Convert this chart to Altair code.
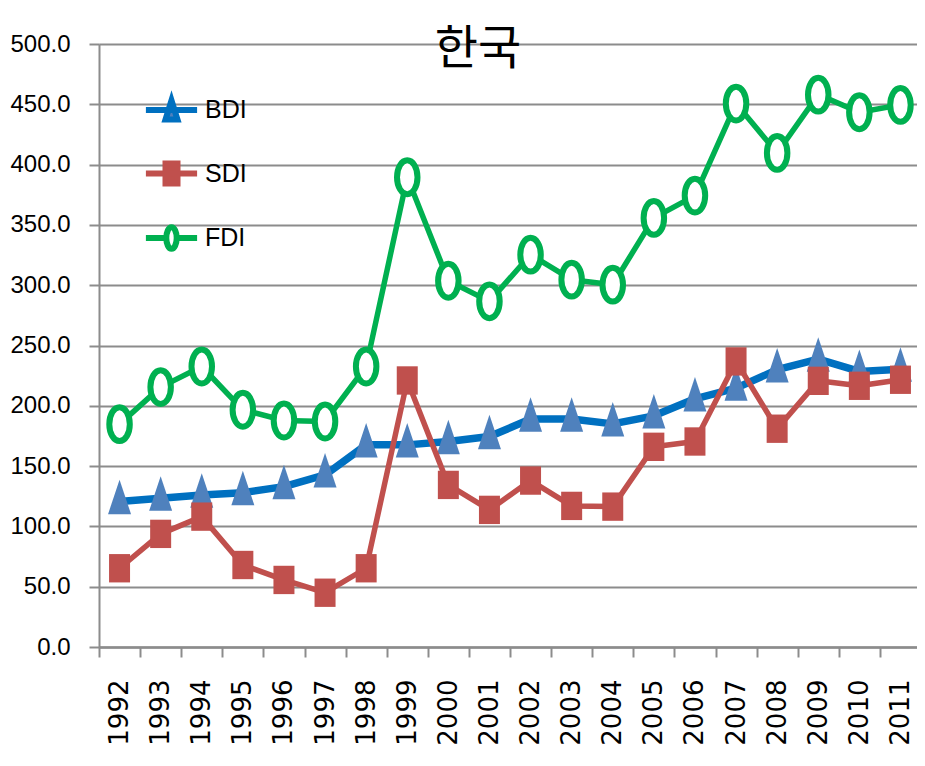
import altair as alt
import pandas as pd

years = ["1992", "1993", "1994", "1995", "1996", "1997", "1998", "1999", "2000", "2001",
         "2002", "2003", "2004", "2005", "2006", "2007", "2008", "2009", "2010", "2011"]
bdi = [120.6, 123.4, 126.0, 128.0, 133.0, 142.7, 167.6, 167.6, 170.4, 174.5,
       189.0, 189.0, 185.0, 191.7, 205.8, 214.7, 229.9, 238.7, 228.5, 230.4]
sdi = [65.3, 93.8, 108.1, 68.0, 55.6, 45.0, 65.3, 221.0, 134.4, 113.7,
       138.0, 117.0, 116.4, 166.0, 170.4, 236.8, 181.0, 220.7, 216.6, 221.6]
fdi = [184.8, 215.5, 232.6, 196.7, 187.8, 187.0, 232.6, 389.5, 303.7, 286.6,
       325.3, 304.6, 300.4, 355.8, 374.3, 450.6, 409.7, 458.0, 443.4, 449.5]
series_names = ["BDI", "SDI", "FDI"]
y_ticks = [0, 50, 100, 150, 200, 250, 300, 350, 400, 450, 500]

line_colors = ["#0070C0", "#C0504D", "#00B050"]
marker_fill = ["#4F81BD", "#C0504D", "#FFFFFF"]
line_widths = [7.5, 5.5, 5.5]

# marker paths (unit box, scaled by sqrt(size)/2)
TRI = "M0,-1.9L1,1.1L-1,1.1Z"
SQR = "M-1,-1.35H1V1.35H-1Z"
ELL = "M0,-1.65A1,1.65 0 1,1 0,1.65A1,1.65 0 1,1 0,-1.65Z"
marker_paths = [TRI, SQR, ELL]
marker_sizes = [529, 441, 420]
marker_stroke = [0, 0, 6]

# legend symbols: line + marker
LEG_TRI = "M-3.2,0H3.2M0,-1.2L0.75,1.2L-0.75,1.2Z"
LEG_SQR = "M-3.2,0H3.2M-0.75,-1.25H0.75V1.25H-0.75Z"
LEG_ELL = "M-3.2,0H-0.65M0.65,0H3.2M0,-1.35A0.65,1.35 0 1,1 0,1.35A0.65,1.35 0 1,1 0,-1.35Z"
legend_paths = [LEG_TRI, LEG_SQR, LEG_ELL]

rows = []
for name, vals in zip(series_names, [bdi, sdi, fdi]):
    for yr, v in zip(years, vals):
        rows.append({"year": yr, "series": name, "value": v})
df = pd.DataFrame(rows)

LABEL_FONT = "Liberation Sans"
GRID = "#8c8c8c"

x_enc = alt.X(
    "year:N", sort=years,
    scale=alt.Scale(type="band", domain=years, paddingInner=0, paddingOuter=0, range=[0, 822]),
    axis=alt.Axis(
        title=None, labelAngle=270, labelFont="DejaVu Sans", labelFontSize=26,
        labelColor="black", labelPadding=22, tickBand="extent", tickSize=10,
        tickColor=GRID, tickWidth=2, domainColor=GRID, domainWidth=2.5, grid=False,
        labelOverlap=False,
    ),
)
y_enc = alt.Y(
    "value:Q",
    scale=alt.Scale(domain=[0, 500], nice=False, zero=True),
    axis=alt.Axis(
        title=None, values=y_ticks, format=".1f", labelFont=LABEL_FONT, labelFontSize=24,
        labelColor="black", labelPadding=19, tickSize=10, tickColor=GRID, tickWidth=2,
        domainColor=GRID, domainWidth=2, grid=True, gridColor=GRID, gridWidth=2,
        gridOpacity=1,
    ),
)

base = alt.Chart(df).encode(x=x_enc, y=y_enc)

layers = []
for i, name in enumerate(series_names):
    sub = base.transform_filter(alt.datum.series == name)
    layers.append(sub.mark_line(color=line_colors[i], strokeWidth=line_widths[i],
                                strokeJoin="round", strokeCap="round"))
    layers.append(sub.mark_point(shape=marker_paths[i], size=marker_sizes[i], filled=True,
                                 fill=marker_fill[i], stroke=line_colors[i] if i == 2 else marker_fill[i],
                                 strokeWidth=marker_stroke[i], opacity=1))

leg = alt.Legend(
    title=None, orient="none", legendX=60, legendY=53.5, symbolSize=256,
    symbolStrokeWidth=6, labelFont=LABEL_FONT, labelFontSize=25, labelColor="black",
    labelOffset=21, rowPadding=18.5, padding=0, symbolOpacity=1,
)
legend_layer = base.transform_filter("false").mark_point(
    filled=True, opacity=1, strokeWidth=6
).encode(
    fill=alt.Fill("series:N", scale=alt.Scale(domain=series_names, range=marker_fill), legend=leg),
    stroke=alt.Stroke("series:N", scale=alt.Scale(domain=series_names, range=line_colors), legend=leg),
    shape=alt.Shape("series:N", scale=alt.Scale(domain=series_names, range=legend_paths), legend=leg),
)
layers.append(legend_layer)

chart = alt.layer(*layers).properties(
    width=818, height=603,
    autosize=alt.AutoSizeParams(type="none"),
    padding={"left": 91, "top": 36, "right": 0, "bottom": 105},
    title=alt.TitleParams("한국", font="Noto Sans CJK KR", fontSize=47, fontWeight="normal",
                          color="black", anchor="middle", dx=-30, dy=46),
).configure_view(stroke=None).configure(background="white")

chart.save("out.html", embed_options={"renderer": "svg", "actions": False})
